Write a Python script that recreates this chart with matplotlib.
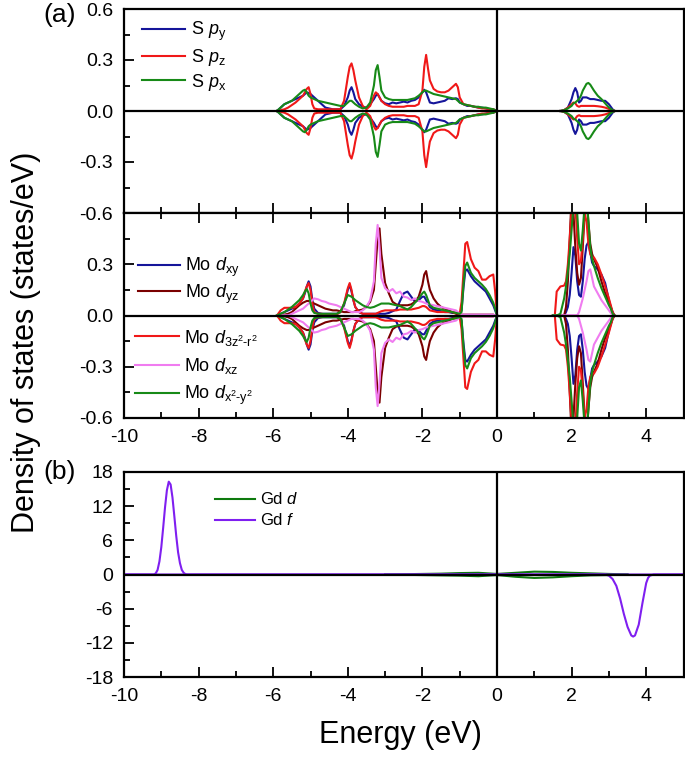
import numpy as np
import matplotlib
matplotlib.use('Agg')
import matplotlib.pyplot as plt
from matplotlib.ticker import MultipleLocator, FixedLocator

plt.rcParams['font.family'] = ['Liberation Sans', 'DejaVu Sans']
plt.rcParams['mathtext.fontset'] = 'custom'
plt.rcParams['mathtext.rm'] = 'Liberation Sans'
plt.rcParams['mathtext.it'] = 'Liberation Sans:italic'
plt.rcParams['mathtext.bf'] = 'Liberation Sans:bold'
plt.rcParams['axes.unicode_minus'] = False

# ---------------- data (spin-up values; spin-down mirrored) ----------------
# (a) upper: S p orbitals, valence region
e_s = [-5.9, -5.8, -5.7, -5.6, -5.5, -5.4, -5.3, -5.2, -5.15, -5.1,
       -5.05, -5.0, -4.95, -4.9, -4.8, -4.7, -4.6, -4.5, -4.4, -4.3,
       -4.2, -4.1, -4.0, -3.95, -3.9, -3.85, -3.8, -3.7, -3.6, -3.5,
       -3.4, -3.3, -3.25, -3.2, -3.15, -3.1, -3.0, -2.9, -2.8, -2.7,
       -2.6, -2.5, -2.4, -2.3, -2.2, -2.1, -2.0, -1.95, -1.9, -1.85,
       -1.8, -1.7, -1.6, -1.5, -1.4, -1.3, -1.2, -1.1, -1.05, -1.0,
       -0.9, -0.8, -0.7, -0.6, -0.5, -0.4, -0.3, -0.2, -0.1, 0.0]
s_py = [0.0, 0.02, 0.04, 0.05, 0.06, 0.07, 0.08, 0.09, 0.10, 0.11,
        0.105, 0.10, 0.09, 0.08, 0.06, 0.04, 0.02, 0.015, 0.01, 0.01,
        0.01, 0.03, 0.08, 0.12, 0.14, 0.11, 0.07, 0.04, 0.025, 0.02,
        0.04, 0.07, 0.09, 0.10, 0.08, 0.06, 0.045, 0.04, 0.05, 0.045,
        0.05, 0.055, 0.05, 0.06, 0.065, 0.08, 0.11, 0.125, 0.11, 0.08,
        0.05, 0.045, 0.05, 0.055, 0.06, 0.075, 0.07, 0.075, 0.07, 0.05,
        0.04, 0.03, 0.03, 0.025, 0.02, 0.02, 0.015, 0.01, 0.01, 0.0]
s_pz = [0.0, 0.005, 0.01, 0.02, 0.035, 0.05, 0.07, 0.09, 0.11, 0.13,
        0.14, 0.10, 0.04, 0.015, 0.01, 0.01, 0.01, 0.01, 0.01, 0.01,
        0.01, 0.06, 0.20, 0.26, 0.28, 0.24, 0.18, 0.08, 0.03, 0.01,
        0.03, 0.09, 0.11, 0.10, 0.08, 0.06, 0.04, 0.03, 0.025, 0.025,
        0.025, 0.025, 0.03, 0.03, 0.03, 0.04, 0.12, 0.26, 0.33, 0.25,
        0.18, 0.13, 0.115, 0.11, 0.11, 0.12, 0.14, 0.16, 0.14, 0.08,
        0.04, 0.035, 0.03, 0.025, 0.02, 0.015, 0.015, 0.01, 0.01, 0.0]
s_px = [0.0, 0.02, 0.04, 0.05, 0.06, 0.08, 0.10, 0.12, 0.125, 0.11,
        0.09, 0.08, 0.075, 0.07, 0.06, 0.055, 0.05, 0.045, 0.04, 0.035,
        0.03, 0.03, 0.05, 0.06, 0.06, 0.05, 0.04, 0.025, 0.015, 0.02,
        0.05, 0.15, 0.24, 0.27, 0.20, 0.12, 0.08, 0.07, 0.065, 0.065,
        0.065, 0.065, 0.065, 0.07, 0.075, 0.09, 0.11, 0.12, 0.12, 0.115,
        0.11, 0.10, 0.095, 0.09, 0.085, 0.08, 0.075, 0.07, 0.06, 0.05,
        0.04, 0.035, 0.03, 0.025, 0.025, 0.02, 0.02, 0.015, 0.01, 0.0]
# S p orbitals, conduction region
e_s2 = [1.7, 1.8, 1.9, 2.0, 2.05, 2.1, 2.15, 2.2, 2.25, 2.3,
        2.4, 2.45, 2.5, 2.6, 2.7, 2.8, 2.9, 3.0, 3.1, 3.15]
s_py2 = [0.0, 0.005, 0.02, 0.07, 0.11, 0.135, 0.11, 0.05, 0.06, 0.08,
         0.08, 0.075, 0.07, 0.07, 0.065, 0.06, 0.06, 0.04, 0.01, 0.0]
s_pz2 = [0.0, 0.005, 0.02, 0.04, 0.05, 0.045, 0.03, 0.025, 0.03, 0.03,
         0.03, 0.03, 0.03, 0.03, 0.028, 0.025, 0.02, 0.012, 0.004, 0.0]
s_px2 = [0.0, 0.005, 0.015, 0.03, 0.045, 0.05, 0.06, 0.07, 0.09, 0.12,
         0.16, 0.165, 0.155, 0.12, 0.09, 0.07, 0.045, 0.02, 0.005, 0.0]

# (a) lower: Mo d orbitals, valence region
e_mo = [-5.9, -5.8, -5.7, -5.6, -5.5, -5.4, -5.3, -5.2, -5.15, -5.1,
        -5.05, -5.0, -4.95, -4.9, -4.8, -4.7, -4.6, -4.5, -4.4, -4.3,
        -4.2, -4.1, -4.0, -3.95, -3.9, -3.85, -3.8, -3.7, -3.6, -3.5,
        -3.4, -3.3, -3.25, -3.2, -3.15, -3.1, -3.0, -2.9, -2.8, -2.7,
        -2.6, -2.5, -2.4, -2.3, -2.2, -2.1, -2.0, -1.95, -1.9, -1.85,
        -1.8, -1.7, -1.6, -1.5, -1.4, -1.3, -1.2, -1.1, -1.0, -0.95,
        -0.9, -0.85, -0.8, -0.7, -0.6, -0.5, -0.4, -0.3, -0.2, -0.1,
        -0.05, 0.0]
mo_dxy = [0.0, 0.01, 0.02, 0.03, 0.04, 0.05, 0.07, 0.10, 0.13, 0.17,
          0.20, 0.17, 0.09, 0.04, 0.015, 0.01, 0.01, 0.01, 0.01, 0.01,
          0.02, 0.06, 0.15, 0.18, 0.14, 0.09, 0.05, 0.02, 0.01, 0.01,
          0.01, 0.01, 0.01, 0.01, 0.01, 0.01, 0.01, 0.015, 0.025, 0.035,
          0.085, 0.13, 0.14, 0.11, 0.08, 0.09, 0.11, 0.11, 0.09, 0.07,
          0.05, 0.035, 0.03, 0.025, 0.02, 0.02, 0.015, 0.015, 0.015, 0.03,
          0.16, 0.26, 0.27, 0.23, 0.20, 0.18, 0.16, 0.14, 0.10, 0.06,
          0.03, 0.0]
mo_dyz = [0.0, 0.0, 0.005, 0.01, 0.02, 0.04, 0.06, 0.075, 0.08, 0.085,
          0.085, 0.08, 0.075, 0.07, 0.06, 0.05, 0.04, 0.035, 0.03, 0.03,
          0.025, 0.02, 0.02, 0.02, 0.02, 0.02, 0.025, 0.03, 0.035, 0.05,
          0.08, 0.15, 0.30, 0.45, 0.51, 0.36, 0.19, 0.13, 0.08, 0.065,
          0.06, 0.06, 0.06, 0.065, 0.08, 0.11, 0.18, 0.24, 0.26, 0.20,
          0.15, 0.10, 0.07, 0.05, 0.04, 0.03, 0.02, 0.01, 0.005, 0.005,
          0.005, 0.005, 0.005, 0.005, 0.005, 0.005, 0.005, 0.005, 0.005, 0.005,
          0.0, 0.0]
mo_dz2 = [0.0, 0.03, 0.045, 0.045, 0.045, 0.05, 0.07, 0.10, 0.14, 0.17,
          0.19, 0.15, 0.07, 0.02, 0.01, 0.01, 0.005, 0.005, 0.005, 0.005,
          0.02, 0.07, 0.16, 0.19, 0.15, 0.09, 0.05, 0.02, 0.01, 0.01,
          0.01, 0.01, 0.01, 0.015, 0.02, 0.025, 0.03, 0.03, 0.03, 0.03,
          0.035, 0.035, 0.035, 0.035, 0.04, 0.045, 0.055, 0.055, 0.05, 0.04,
          0.03, 0.025, 0.02, 0.02, 0.02, 0.02, 0.02, 0.015, 0.01, 0.08,
          0.25, 0.42, 0.43, 0.33, 0.28, 0.26, 0.21, 0.21, 0.23, 0.24,
          0.14, 0.0]
mo_dxz = [0.0, 0.0, 0.0, 0.0, 0.01, 0.02, 0.03, 0.04, 0.05, 0.06,
          0.07, 0.08, 0.09, 0.10, 0.095, 0.085, 0.08, 0.07, 0.065, 0.06,
          0.05, 0.04, 0.03, 0.025, 0.02, 0.02, 0.02, 0.02, 0.03, 0.05,
          0.09, 0.20, 0.42, 0.53, 0.40, 0.22, 0.16, 0.14, 0.155, 0.13,
          0.14, 0.11, 0.105, 0.09, 0.10, 0.085, 0.08, 0.075, 0.07, 0.068,
          0.065, 0.06, 0.055, 0.05, 0.045, 0.04, 0.035, 0.03, 0.01, 0.005,
          0.005, 0.005, 0.005, 0.005, 0.005, 0.005, 0.005, 0.005, 0.005, 0.005,
          0.0, 0.0]
mo_dx2 = [0.0, 0.01, 0.02, 0.035, 0.05, 0.07, 0.09, 0.12, 0.14, 0.155,
          0.13, 0.07, 0.03, 0.015, 0.01, 0.01, 0.01, 0.01, 0.01, 0.01,
          0.02, 0.07, 0.12, 0.115, 0.11, 0.10, 0.09, 0.075, 0.06, 0.05,
          0.045, 0.05, 0.055, 0.06, 0.065, 0.07, 0.07, 0.07, 0.065, 0.06,
          0.055, 0.045, 0.035, 0.05, 0.075, 0.10, 0.13, 0.14, 0.12, 0.09,
          0.06, 0.045, 0.04, 0.035, 0.03, 0.025, 0.02, 0.015, 0.01, 0.02,
          0.18, 0.29, 0.31, 0.25, 0.22, 0.20, 0.18, 0.155, 0.12, 0.075,
          0.04, 0.0]
# Mo d orbitals, conduction region
e_mo2 = [1.5, 1.55, 1.6, 1.7, 1.8, 1.85, 1.9, 1.95, 2.0, 2.05,
         2.1, 2.15, 2.2, 2.25, 2.3, 2.35, 2.4, 2.45, 2.5, 2.55,
         2.6, 2.7, 2.8, 2.9, 3.0, 3.05, 3.1, 3.15]
mo_dxy2 = [0.0, 0.0, 0.0, 0.0, 0.0, 0.02, 0.05, 0.12, 0.25, 0.40,
           0.35, 0.20, 0.12, 0.11, 0.20, 0.33, 0.41, 0.43, 0.37, 0.31,
           0.29, 0.27, 0.24, 0.19, 0.09, 0.05, 0.02, 0.0]
mo_dyz2 = [0.0, 0.0, 0.0, 0.0, 0.0, 0.05, 0.20, 0.45, 0.70, 0.60,
           0.40, 0.25, 0.18, 0.22, 0.40, 0.60, 0.70, 0.55, 0.42, 0.36,
           0.33, 0.28, 0.20, 0.13, 0.08, 0.05, 0.015, 0.0]
mo_dz22 = [0.0, 0.0, 0.14, 0.17, 0.175, 0.20, 0.30, 0.45, 0.62, 0.75,
           0.65, 0.45, 0.30, 0.32, 0.45, 0.60, 0.55, 0.42, 0.36, 0.34,
           0.34, 0.30, 0.24, 0.17, 0.10, 0.06, 0.02, 0.0]
mo_dxz2 = [0.0, 0.0, 0.0, 0.0, 0.0, 0.0, 0.0, 0.0, 0.0, 0.0,
           0.0, 0.0, 0.02, 0.06, 0.10, 0.15, 0.20, 0.26, 0.27, 0.22,
           0.17, 0.13, 0.09, 0.06, 0.03, 0.015, 0.005, 0.0]
mo_dx22 = [0.0, 0.0, 0.0, 0.01, 0.10, 0.17, 0.26, 0.36, 0.50, 0.65,
           0.75, 0.60, 0.42, 0.38, 0.50, 0.65, 0.70, 0.55, 0.40, 0.33,
           0.29, 0.22, 0.16, 0.11, 0.06, 0.04, 0.01, 0.0]

# (b) Gd
e_gdd = [-3.0, -2.5, -2.0, -1.5, -1.0, -0.5, 0.0, 0.5, 1.0, 1.5, 2.0, 2.5, 3.0, 3.5]
gd_d_up = [0.02, 0.05, 0.10, 0.15, 0.25, 0.30, 0.10, 0.30, 0.50, 0.45, 0.30, 0.20, 0.10, 0.02]
gd_d_dn = [-0.02, -0.05, -0.10, -0.15, -0.20, -0.30, -0.10, -0.40, -0.60, -0.50, -0.30, -0.15, -0.10, -0.02]
e_gdf_up = [-10.0, -9.2, -9.15, -9.1, -9.05, -9.0, -8.95, -8.9, -8.85, -8.8, -8.75,
            -8.7, -8.65, -8.6, -8.55, -8.5, -8.45, -8.4, -8.35, -8.3, 5.0]
gd_f_up = [0.0, 0.0, 0.2, 0.8, 2.3, 4.8, 8.2, 11.8, 14.8, 16.3, 15.8,
           13.5, 10.2, 6.8, 3.9, 2.0, 0.8, 0.3, 0.05, 0.0, 0.0]
e_gdf_dn = [-10.0, 2.9, 3.0, 3.1, 3.2, 3.3, 3.4, 3.5, 3.6, 3.65, 3.7, 3.8, 3.9,
            4.0, 4.05, 4.1, 4.2, 5.0]
gd_f_dn = [0.0, 0.0, -0.2, -0.8, -2.0, -4.2, -6.9, -9.2, -10.7, -10.9, -10.7, -8.8, -5.0,
           -1.5, -0.6, -0.2, 0.0, 0.0]

x_ticks = [-10, -8, -6, -4, -2, 0, 2, 4]

# ---------------- styling ----------------
BLUE = '#15159A'
RED = '#F01818'
GREEN = '#178A17'
BROWN = '#7A0000'
PINK = '#F07CF0'
GDGREEN = '#0E7A0E'
VIOLET = '#7F1FF0'
LW = 1.5

fig = plt.figure(figsize=(6.85, 7.58), dpi=100)
L = 124 / 685
W = (683.5 - 124) / 685
ax1 = fig.add_axes([L, 1 - 213 / 758, W, 204 / 758])
ax2 = fig.add_axes([L, 1 - 418 / 758, W, 205 / 758])
ax3 = fig.add_axes([L, 1 - 677 / 758, W, 205 / 758])


def pair(ax, e, v, color, label=None):
    v = np.asarray(v)
    ax.plot(e, v, color=color, lw=LW, label=label)
    ax.plot(e, -v, color=color, lw=LW)


# top panel
for (v1, v2, c, lab) in [(s_py, s_py2, BLUE, r'S $p_{\mathrm{y}}$'),
                         (s_pz, s_pz2, RED, r'S $p_{\mathrm{z}}$'),
                         (s_px, s_px2, GREEN, r'S $p_{\mathrm{x}}$')]:
    pair(ax1, e_s, v1, c, lab)
    pair(ax1, e_s2, v2, c)

# middle panel
mo_sets = [(mo_dxy, mo_dxy2, BLUE, r'Mo $d_{\mathrm{xy}}$'),
           (mo_dyz, mo_dyz2, BROWN, r'Mo $d_{\mathrm{yz}}$'),
           (mo_dz2, mo_dz22, RED, r'Mo $d_{\mathrm{3z^2\text{-}r^2}}$'),
           (mo_dxz, mo_dxz2, PINK, r'Mo $d_{\mathrm{xz}}$'),
           (mo_dx2, mo_dx22, GREEN, r'Mo $d_{\mathrm{x^2\text{-}y^2}}$')]
for (v1, v2, c, lab) in mo_sets:
    pair(ax2, e_mo, v1, c, lab)
    pair(ax2, e_mo2, v2, c)

# bottom panel
ax3.plot(e_gdd, gd_d_up, color=GDGREEN, lw=LW, label=r'Gd $d$')
ax3.plot(e_gdd, gd_d_dn, color=GDGREEN, lw=LW)
ax3.plot(e_gdf_up, gd_f_up, color=VIOLET, lw=LW, label=r'Gd $f$')
ax3.plot(e_gdf_dn, gd_f_dn, color=VIOLET, lw=LW)

for ax in (ax1, ax2, ax3):
    ax.axhline(0, color='k', lw=1.6, zorder=5)
    ax.axvline(0, color='k', lw=1.6, zorder=5)
    ax.set_xlim(-10, 5)
    ax.xaxis.set_major_locator(FixedLocator(x_ticks))
    ax.xaxis.set_minor_locator(MultipleLocator(1))
    for s in ax.spines.values():
        s.set_linewidth(1.6)
    ax.tick_params(which='both', direction='in', width=1.3, labelsize=14, right=False, top=False)
    ax.tick_params(which='major', length=7)
    ax.tick_params(which='minor', length=4)
    ax.tick_params(axis='x', which='both', pad=8)
    ax.tick_params(axis='y', which='both', pad=8)

for ax in (ax1, ax2):
    ax.set_ylim(-0.6, 0.6)
    ax.yaxis.set_major_locator(FixedLocator([-0.6, -0.3, 0.0, 0.3, 0.6]))
    ax.yaxis.set_minor_locator(FixedLocator([-0.45, -0.15, 0.15, 0.45]))

ax1.set_yticklabels(['-0.6', '-0.3', '0.0', '0.3', '0.6'])
ax2.set_yticklabels(['-0.6', '-0.3', '0.0', '0.3', ''])
ax1.tick_params(axis='x', labelbottom=False)
ax2.tick_params(axis='x', top=True, which='both')
ax2.set_xticklabels([str(t) for t in x_ticks])

ax3.set_ylim(-18, 18)
ax3.yaxis.set_major_locator(FixedLocator([-18, -12, -6, 0, 6, 12, 18]))
ax3.yaxis.set_minor_locator(MultipleLocator(3))
ax3.set_yticklabels(['-18', '-12', '-6', '0', '6', '12', '18'])
ax3.set_xticklabels([str(t) for t in x_ticks])

# legends
leg_kw = dict(frameon=False, fontsize=13, handletextpad=0.3, borderpad=0,
              borderaxespad=0, loc='upper left')
ax1.legend(bbox_to_anchor=(0.032, 0.945), handlelength=2.4, labelspacing=0.2, **leg_kw)
h, l = ax2.get_legend_handles_labels()
lg1 = ax2.legend(h[:2], l[:2], bbox_to_anchor=(0.025, 0.79), handlelength=2.3,
                 labelspacing=0.18, **leg_kw)
ax2.add_artist(lg1)
ax2.legend(h[2:], l[2:], bbox_to_anchor=(0.02, 0.44), handlelength=2.4,
           labelspacing=0.45, **leg_kw)
ax3.legend(bbox_to_anchor=(0.163, 0.905), handlelength=2.4, labelspacing=0.3,
           **dict(leg_kw, fontsize=12))

fig.text(43 / 685, 1 - 15 / 758, '(a)', fontsize=19, ha='left', va='center')
fig.text(43 / 685, 1 - 472 / 758, '(b)', fontsize=19, ha='left', va='center')
fig.text(26 / 685, 1 - 342 / 758, 'Density of states (states/eV)', fontsize=22,
         rotation=90, ha='center', va='center')
fig.text(400 / 685, 1 - 735 / 758, 'Energy (eV)', fontsize=22, ha='center', va='center')

fig.savefig('out.png', dpi=100)
